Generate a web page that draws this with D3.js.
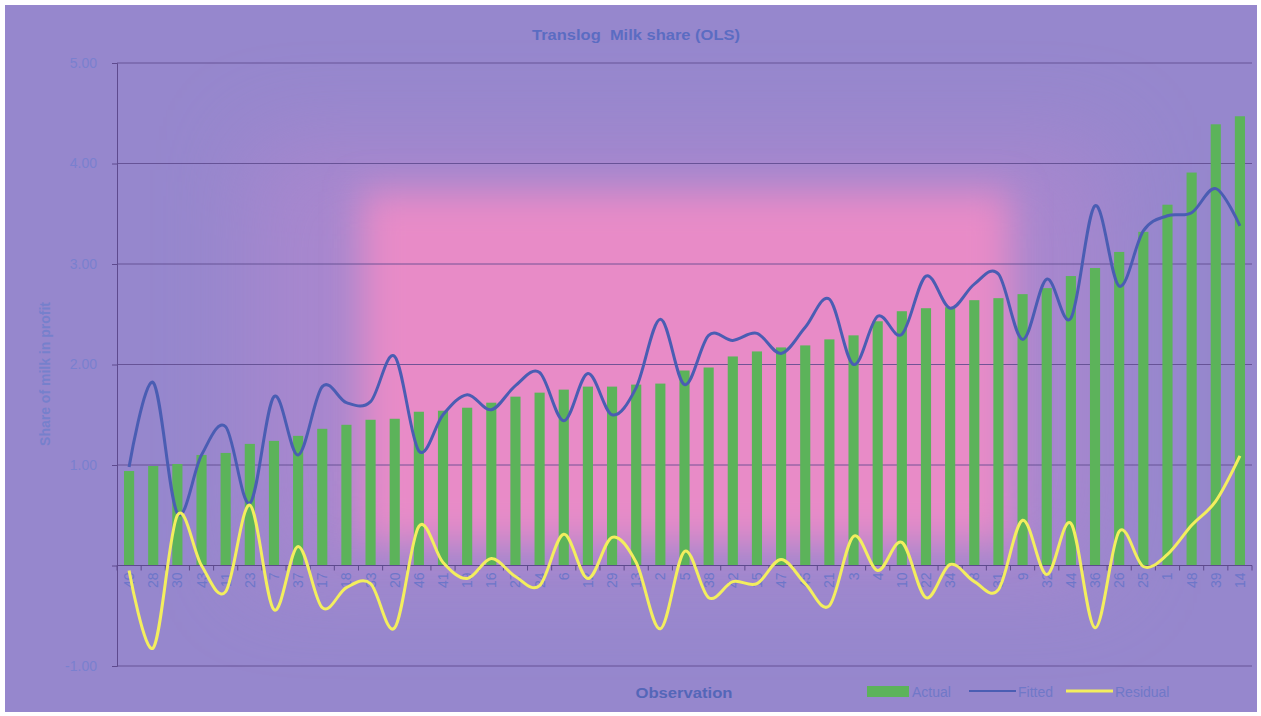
<!DOCTYPE html>
<html>
<head>
<meta charset="utf-8">
<script src="https://cdn.jsdelivr.net/npm/d3@7"></script>
<style>
  html, body { margin: 0; padding: 0; background: #ffffff; }
  svg { display: block; }
  text { font-family: "Liberation Sans", Arial, sans-serif; }
</style>
</head>
<body>
<svg id="chart" width="1261" height="716"></svg>
<script>
// Observation ids, sorted by actual milk share
const categories = ["40","28","30","43","11","23","7","37","17","18","33","20","46","41","19","16",
  "27","24","6","12","29","13","2","5","38","42","15","47","45","21","3","4","10","22","34","8",
  "31","9","32","44","36","26","25","1","48","39","14"];

const actual = [0.94,0.99,1.01,1.10,1.12,1.21,1.24,1.29,1.36,1.40,1.45,1.46,1.53,1.54,1.57,1.62,
  1.68,1.72,1.75,1.78,1.78,1.80,1.81,1.94,1.97,2.08,2.13,2.17,2.19,2.25,2.29,2.43,2.53,2.56,2.57,2.64,
  2.66,2.70,2.76,2.88,2.96,3.12,3.32,3.59,3.91,4.39,4.47];

const fitted = [0.98,1.82,0.52,1.10,1.38,0.62,1.68,1.10,1.78,1.62,1.63,2.08,1.14,1.50,1.70,1.55,
  1.79,1.92,1.44,1.91,1.50,1.77,2.45,1.80,2.29,2.24,2.31,2.11,2.37,2.65,2.00,2.48,2.30,2.88,2.56,2.80,
  2.90,2.25,2.85,2.46,3.58,2.78,3.33,3.48,3.51,3.75,3.38];

const residual = [-0.05,-0.82,0.50,0.00,-0.26,0.60,-0.44,0.19,-0.42,-0.22,-0.18,-0.62,0.39,0.03,-0.13,0.07,
  -0.11,-0.20,0.31,-0.13,0.28,0.03,-0.63,0.14,-0.32,-0.16,-0.18,0.06,-0.18,-0.40,0.29,-0.05,0.23,-0.32,0.01,-0.16,
  -0.24,0.45,-0.09,0.42,-0.62,0.34,-0.01,0.11,0.40,0.64,1.09];

const yTicks = [-1, 0, 1, 2, 3, 4, 5];
const yTickLabels = ["-1.00", "", "1.00", "2.00", "3.00", "4.00", "5.00"];

const seriesNames = ["Actual", "Fitted", "Residual"];

const W = 1261, H = 716;
const plot = { left: 117, right: 1252, top: 63, bottom: 666 };

const svg = d3.select("#chart");
const defs = svg.append("defs");

// soft glow filters for the background
[["glowSoft", 45], ["glowCore", 18]].forEach(([id, sd]) => {
  defs.append("filter").attr("id", id)
    .attr("x", "-60%").attr("y", "-60%").attr("width", "220%").attr("height", "220%")
    .append("feGaussianBlur").attr("stdDeviation", sd);
});

// chart area background
svg.append("rect").attr("x", 5).attr("y", 5).attr("width", W - 9).attr("height", H - 9)
  .attr("fill", "#9687cd");

const bg = svg.append("g");
bg.append("rect").attr("x", 250).attr("y", 140).attr("width", 860).attr("height", 440)
  .attr("fill", "#b087cf").attr("opacity", 0.7).attr("filter", "url(#glowSoft)");
bg.append("rect").attr("x", 362).attr("y", 192).attr("width", 648).attr("height", 350)
  .attr("fill", "#e88bc7").attr("filter", "url(#glowCore)");

// scales
const x = d3.scaleBand().domain(categories).range([plot.left, plot.right]).paddingInner(0.58).paddingOuter(0.29);
const xc = d => x(d) + x.bandwidth() / 2;
const y = d3.scaleLinear().domain([-1, 5]).range([plot.bottom, plot.top]);

const gridColor = "#5e4a8e";
const tickTextColor = "#7a80cf";

// horizontal gridlines
svg.append("g").selectAll("line").data(yTicks.filter(v => v !== 0)).join("line")
  .attr("x1", plot.left).attr("x2", plot.right)
  .attr("y1", d => y(d)).attr("y2", d => y(d))
  .attr("stroke", gridColor).attr("stroke-width", 1).attr("opacity", 0.85);

// y axis
const yAxis = svg.append("g").attr("transform", `translate(${plot.left},0)`)
  .call(d3.axisLeft(y).tickValues(yTicks).tickSize(5).tickPadding(15)
    .tickFormat((d, i) => yTickLabels[i]));
yAxis.select(".domain").attr("stroke", gridColor);
yAxis.selectAll(".tick line").attr("stroke", gridColor);
yAxis.selectAll(".tick text").attr("fill", tickTextColor).attr("font-size", 14)
  .attr("font-family", "Liberation Sans, Arial, sans-serif");

// bars
svg.append("g").selectAll("rect").data(categories).join("rect")
  .attr("x", d => x(d))
  .attr("width", x.bandwidth())
  .attr("y", (d, i) => y(Math.max(0, actual[i])))
  .attr("height", (d, i) => Math.abs(y(actual[i]) - y(0)))
  .attr("fill", "#5cb35a");

// x axis on the zero line
const step = x.step();
const xAxisG = svg.append("g").attr("transform", `translate(0,${y(0)})`);
xAxisG.append("line").attr("x1", plot.left).attr("x2", plot.right)
  .attr("stroke", gridColor).attr("stroke-width", 1);
xAxisG.selectAll("line.tk").data(d3.range(categories.length + 1)).join("line")
  .attr("class", "tk")
  .attr("x1", i => plot.left + i * step).attr("x2", i => plot.left + i * step)
  .attr("y1", 0).attr("y2", 5).attr("stroke", gridColor);
xAxisG.selectAll("text").data(categories).join("text")
  .attr("transform", d => `translate(${xc(d) + 5},7) rotate(-90)`)
  .attr("text-anchor", "end")
  .attr("font-size", 14)
  .attr("fill", "#6d76c9")
  .text(d => d);

// smoothed lines
const line = d3.line().x((d, i) => xc(categories[i])).y(d => y(d)).curve(d3.curveCatmullRom.alpha(0));

svg.append("path").datum(fitted).attr("d", line)
  .attr("fill", "none").attr("stroke", "#4a5db3").attr("stroke-width", 3).attr("stroke-linejoin", "round");
svg.append("path").datum(residual).attr("d", line)
  .attr("fill", "none").attr("stroke", "#f3ee5e").attr("stroke-width", 3).attr("stroke-linejoin", "round");

// titles
svg.append("text").attr("x", 636).attr("y", 40).attr("text-anchor", "middle")
  .attr("font-size", 14).attr("font-weight", "bold").attr("fill", "#5b6cc2")
  .style("white-space", "pre")
  .attr("textLength", 208).attr("lengthAdjust", "spacingAndGlyphs")
  .text("Translog  Milk share (OLS)");

svg.append("text").attr("transform", "translate(50,374) rotate(-90)").attr("text-anchor", "middle")
  .attr("font-size", 14).attr("font-weight", "bold").attr("fill", "#7680cc")
  .text("Share of milk in profit");

svg.append("text").attr("x", 684).attr("y", 698).attr("text-anchor", "middle")
  .attr("font-size", 14).attr("font-weight", "bold").attr("fill", "#5466b8")
  .attr("textLength", 97).attr("lengthAdjust", "spacingAndGlyphs")
  .text("Observation");

// legend
const legend = svg.append("g");
const lgY = 692;
legend.append("rect").attr("x", 867).attr("y", lgY - 6).attr("width", 42).attr("height", 11).attr("fill", "#5cb35a");
legend.append("text").attr("x", 912).attr("y", lgY + 5).attr("font-size", 14).attr("fill", "#7078c8").text(seriesNames[0]);
legend.append("line").attr("x1", 969).attr("x2", 1016).attr("y1", lgY - 1).attr("y2", lgY - 1)
  .attr("stroke", "#4a5db3").attr("stroke-width", 2);
legend.append("text").attr("x", 1018).attr("y", lgY + 5).attr("font-size", 14).attr("fill", "#7078c8").text(seriesNames[1]);
legend.append("line").attr("x1", 1066).attr("x2", 1113).attr("y1", lgY - 1).attr("y2", lgY - 1)
  .attr("stroke", "#f3ee5e").attr("stroke-width", 3);
legend.append("text").attr("x", 1115).attr("y", lgY + 5).attr("font-size", 14).attr("fill", "#7078c8").text(seriesNames[2]);
</script>
</body>
</html>
